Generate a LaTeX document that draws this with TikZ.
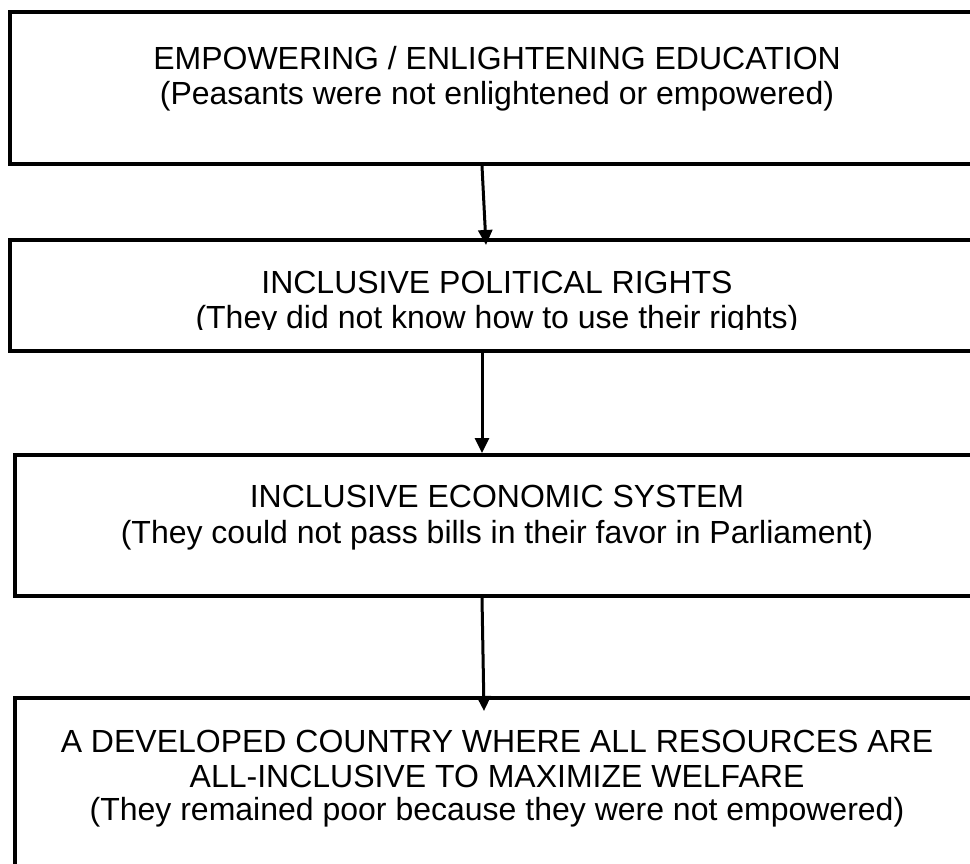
\documentclass[tikz,border=0pt]{standalone}
\usepackage{fontspec}
\setmainfont{Liberation Sans}
\usetikzlibrary{arrows.meta}
\begin{document}
\begin{tikzpicture}[x=1pt,y=-1pt,
  box/.style={draw=black,line width=4pt,inner sep=0pt,minimum width=975pt},
  txt/.style={anchor=base,inner sep=0pt,font=\fontsize{32}{35}\selectfont},
  arr/.style={line width=3pt,-{Triangle[length=15pt,width=14pt]}}]
\clip (0,0) rectangle (970,864);
\fill[white] (0,0) rectangle (970,864);
% boxes
\node[box,minimum height=152pt] (b1) at (497.5,88) {};
\node[box,minimum height=111pt] (b2) at (497.5,295.5) {};
\node[box,minimum width=965pt,minimum height=141pt] (b3) at (497.5,525.5) {};
\node[box,minimum width=965pt,minimum height=252pt] (b4) at (497.5,824) {};
% texts
\node[txt] (t1a) at (497,70) {EMPOWERING / ENLIGHTENING EDUCATION};
\node[txt] (t1b) at (497,105) {(Peasants were not enlightened or empowered)};
\node[txt] (t2a) at (497,293) {INCLUSIVE POLITICAL RIGHTS};
\begin{scope}
\clip (0,0) rectangle (970,329);
\node[txt] (t2b) at (497,328) {(They did not know how to use their rights)};
\end{scope}
\node[txt] (t3a) at (497,507) {INCLUSIVE ECONOMIC SYSTEM};
\node[txt] (t3b) at (497,543) {(They could not pass bills in their favor in Parliament)};
\node[txt] (t4a) at (497,752) {A DEVELOPED COUNTRY WHERE ALL RESOURCES ARE};
\node[txt] (t4b) at (497,787) {ALL-INCLUSIVE TO MAXIMIZE WELFARE};
\node[txt] (t4c) at (497,820) {(They remained poor because they were not empowered)};
% connectors
\draw[arr] ([xshift=-15.5pt]b1.south) -- ([xshift=-11.5pt,yshift=-7pt]b2.north);
\draw[arr] ([xshift=-15.5pt]b2.south) -- ([xshift=-15.5pt]b3.north);
\draw[arr] ([xshift=-15.5pt]b3.south) -- ([xshift=-13.5pt,yshift=-15pt]b4.north);
\end{tikzpicture}
\end{document}
